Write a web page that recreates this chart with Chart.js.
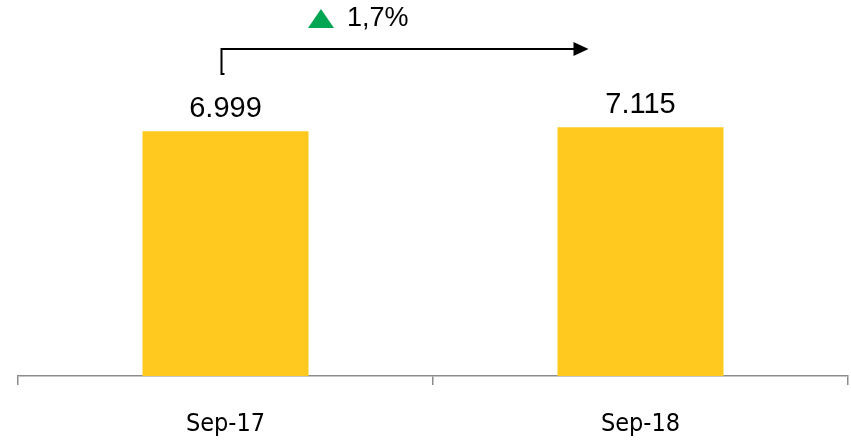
<!DOCTYPE html>
<html>
<head>
<meta charset="utf-8">
<script src="https://cdn.jsdelivr.net/npm/chart.js@4.4.1/dist/chart.umd.min.js"></script>
<style>
  html, body { margin: 0; padding: 0; background: #ffffff; }
  #wrap { width: 851px; height: 442px; position: relative; }
</style>
</head>
<body>
<div id="wrap"><canvas id="c" width="851" height="442"></canvas></div>
<script>
const categories = ['Sep-17', 'Sep-18'];
const values = [6999, 7115];
const valueLabels = ['6.999', '7.115'];
const changeLabel = '1,7%';

const barColor = '#FFC91F';

const annotationPlugin = {
  id: 'annot',
  afterDatasetsDraw(chart) {
    const ctx = chart.ctx;
    const meta = chart.getDatasetMeta(0);
    ctx.save();
    // value labels
    ctx.fillStyle = '#000000';
    ctx.font = '29px "Liberation Sans", Arial, sans-serif';
    ctx.textAlign = 'center';
    ctx.textBaseline = 'middle';
    meta.data.forEach((bar, i) => {
      ctx.fillText(valueLabels[i], bar.x, bar.y - 22);
    });
    // growth arrow
    const b0 = meta.data[0], b1 = meta.data[1];
    const x0 = b0.x - 4;
    const yTop = 49;
    const yBot = 74;
    const xEnd = b1.x - 52;
    ctx.strokeStyle = '#000000';
    ctx.lineWidth = 2;
    ctx.beginPath();
    ctx.moveTo(x0 + 3, yBot);
    ctx.lineTo(x0, yBot);
    ctx.lineTo(x0, yTop);
    ctx.lineTo(xEnd - 14, yTop);
    ctx.stroke();
    ctx.fillStyle = '#000000';
    ctx.beginPath();
    ctx.moveTo(xEnd - 15, yTop - 7);
    ctx.lineTo(xEnd, yTop);
    ctx.lineTo(xEnd - 15, yTop + 7);
    ctx.closePath();
    ctx.fill();
    // triangle + percentage
    const tx = 308;
    ctx.fillStyle = '#00A651';
    ctx.beginPath();
    ctx.moveTo(tx, 28);
    ctx.lineTo(tx + 13, 9);
    ctx.lineTo(tx + 26, 28);
    ctx.closePath();
    ctx.fill();
    ctx.fillStyle = '#000000';
    ctx.textAlign = 'left';
    ctx.font = '27px "Liberation Sans", Arial, sans-serif';
    ctx.fillText(changeLabel, 347, 19);
    ctx.restore();
  }
};

new Chart(document.getElementById('c'), {
  type: 'bar',
  data: {
    labels: categories,
    datasets: [{
      data: values,
      backgroundColor: barColor,
      borderWidth: 0,
      categoryPercentage: 1.0,
      barPercentage: 0.4
    }]
  },
  options: {
    responsive: false,
    animation: false,
    devicePixelRatio: 1,
    layout: { padding: { top: 0, left: 18, right: 3, bottom: 0 } },
    plugins: { legend: { display: false }, tooltip: { enabled: false } },
    scales: {
      y: { display: false, min: 0, max: 10750 },
      x: {
        afterFit(scale) { scale.height = 66; },
        grid: {
          display: true,
          drawOnChartArea: false,
          drawTicks: true,
          tickLength: 9,
          color: '#8c8c8c',
          lineWidth: 1.5,
          offset: true
        },
        border: { display: true, color: '#8c8c8c', width: 1.5 },
        ticks: {
          color: '#000000',
          padding: 24,
          font: { family: '"Liberation Sans Narrow", "DejaVu Sans Condensed", "Liberation Sans", sans-serif', size: 25 }
        }
      }
    }
  },
  plugins: [annotationPlugin]
});
</script>
</body>
</html>
